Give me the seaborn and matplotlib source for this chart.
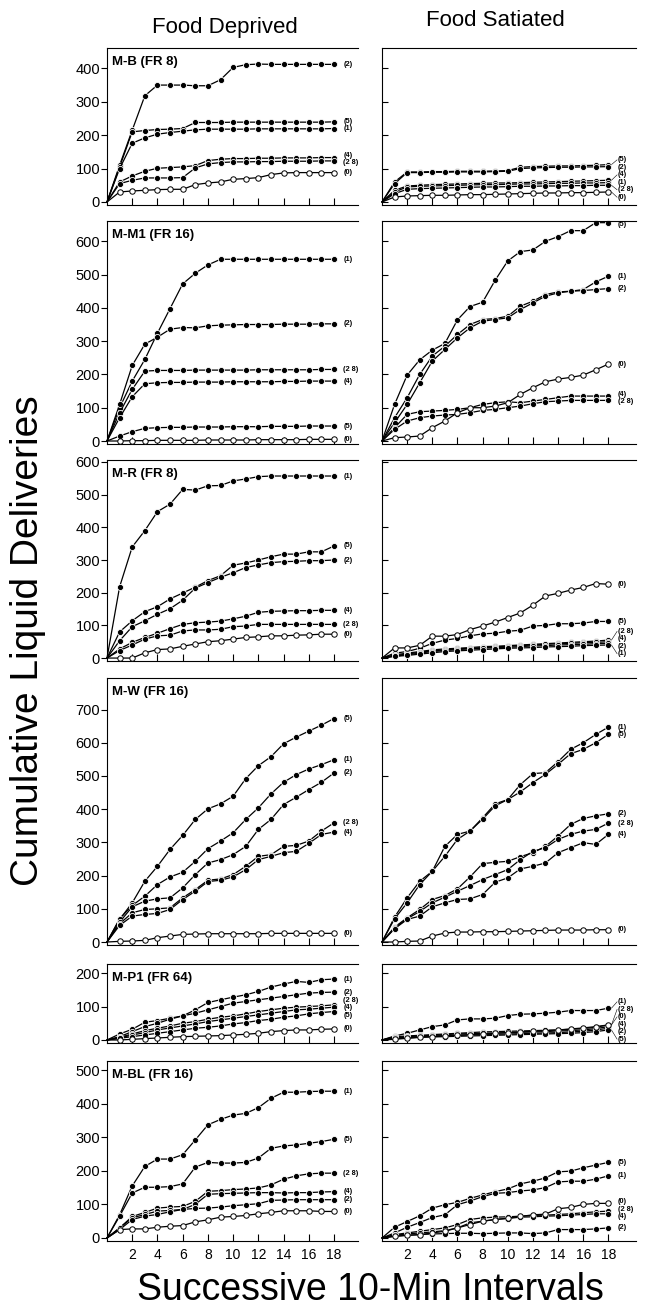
import matplotlib
matplotlib.use("Agg")
import matplotlib.pyplot as plt
import seaborn as sns
import numpy as np

sns.set_theme(style="ticks")
plt.rcParams["font.family"] = ["Liberation Sans", "DejaVu Sans"]
plt.rcParams.update({"text.color": "black", "axes.labelcolor": "black",
                     "xtick.color": "black", "ytick.color": "black",
                     "axes.edgecolor": "black"})

# ---------------- data ----------------
INTERVALS = list(range(1, 19))
X_TICKS = [2, 4, 6, 8, 10, 12, 14, 16, 18]
CONDITIONS = ["(0)", "(1)", "(2)", "(4)", "(5)", "(2 8)"]
PANEL_NAMES = ["M-B (FR 8)", "M-M1 (FR 16)", "M-R (FR 8)", "M-W (FR 16)", "M-P1 (FR 64)", "M-BL (FR 16)"]
Y_TICKS = [[0, 100, 200, 300, 400], [0, 100, 200, 300, 400, 500, 600], [0, 100, 200, 300, 400, 500, 600],
           [0, 100, 200, 300, 400, 500, 600, 700], [0, 100, 200], [0, 100, 200, 300, 400, 500]]
COLUMN_TITLES = ["Food Deprived", "Food Satiated"]

MB_DEP = {
    "(2)": [110, 215, 318, 350, 350, 350, 348, 348, 366, 403, 411, 413, 412, 412, 412, 412, 412, 412],
    "(5)": [105, 210, 214, 217, 218, 220, 238, 238, 238, 239, 239, 239, 239, 239, 239, 239, 239, 240],
    "(1)": [100, 176, 192, 203, 208, 212, 216, 218, 218, 218, 218, 219, 219, 219, 219, 219, 219, 220],
    "(4)": [60, 78, 92, 101, 103, 105, 109, 124, 128, 130, 130, 131, 131, 132, 132, 132, 133, 133],
    "(2 8)": [55, 65, 72, 72, 72, 73, 102, 114, 118, 120, 120, 121, 121, 122, 122, 122, 123, 123],
    "(0)": [30, 33, 35, 37, 38, 38, 52, 57, 60, 68, 70, 73, 82, 87, 88, 88, 88, 88],
}
MB_SAT = {
    "(5)": [60, 90, 90, 91, 91, 92, 92, 92, 93, 94, 104, 106, 107, 108, 108, 109, 110, 112],
    "(2)": [55, 88, 88, 89, 89, 90, 90, 90, 91, 92, 100, 102, 103, 104, 104, 105, 105, 106],
    "(4)": [35, 48, 50, 52, 53, 54, 55, 56, 57, 57, 58, 59, 60, 61, 62, 63, 64, 65],
    "(1)": [30, 45, 47, 48, 49, 50, 51, 52, 52, 53, 54, 54, 55, 56, 56, 57, 57, 58],
    "(2 8)": [25, 38, 40, 41, 42, 43, 44, 45, 45, 46, 47, 47, 48, 48, 49, 49, 50, 50],
    "(0)": [15, 18, 19, 20, 20, 21, 22, 22, 23, 24, 25, 26, 27, 27, 28, 28, 29, 30],
}
MM1_DEP = {
    "(1)": [100, 180, 245, 324, 398, 472, 504, 529, 546, 546, 546, 546, 546, 546, 546, 546, 546, 546],
    "(2)": [110, 227, 291, 312, 336, 341, 340, 346, 348, 349, 350, 350, 350, 351, 351, 351, 352, 352],
    "(2 8)": [85, 155, 210, 212, 212, 212, 213, 213, 213, 213, 213, 214, 214, 214, 214, 214, 215, 215],
    "(4)": [70, 133, 172, 175, 176, 176, 177, 177, 177, 178, 178, 178, 178, 179, 179, 180, 180, 180],
    "(5)": [15, 28, 38, 40, 41, 41, 42, 42, 42, 43, 43, 43, 44, 44, 44, 45, 45, 45],
    "(0)": [0, 1, 1, 2, 2, 2, 2, 3, 3, 3, 3, 4, 4, 4, 4, 5, 5, 5],
}
MM1_SAT = {
    "(5)": [110, 198, 244, 273, 293, 364, 404, 417, 483, 541, 569, 574, 600, 614, 632, 632, 656, 656],
    "(1)": [70, 130, 200, 255, 285, 320, 350, 365, 368, 375, 405, 420, 440, 448, 450, 455, 478, 495],
    "(2)": [55, 110, 175, 240, 275, 310, 340, 360, 365, 370, 395, 415, 435, 445, 450, 452, 455, 458],
    "(0)": [10, 12, 15, 40, 60, 85, 100, 100, 105, 115, 140, 160, 178, 186, 191, 198, 214, 231],
    "(4)": [40, 80, 88, 90, 92, 95, 100, 110, 115, 118, 115, 120, 125, 130, 135, 135, 135, 135],
    "(2 8)": [35, 60, 70, 75, 78, 80, 85, 92, 95, 100, 105, 112, 118, 120, 122, 122, 122, 122],
}
MR_DEP = {
    "(1)": [218, 340, 390, 448, 471, 516, 514, 527, 528, 542, 548, 555, 557, 557, 557, 557, 557, 557],
    "(5)": [80, 114, 142, 157, 181, 199, 217, 237, 252, 284, 291, 300, 310, 318, 318, 325, 325, 343],
    "(2)": [53, 96, 114, 134, 151, 177, 214, 231, 247, 261, 277, 285, 292, 295, 296, 298, 298, 300],
    "(4)": [28, 48, 63, 76, 90, 103, 108, 110, 113, 120, 128, 140, 143, 144, 145, 145, 146, 146],
    "(2 8)": [23, 40, 58, 68, 70, 83, 86, 86, 88, 96, 98, 103, 103, 103, 103, 103, 103, 103],
    "(0)": [0, 0, 16, 26, 28, 36, 43, 50, 53, 58, 63, 65, 68, 68, 70, 71, 73, 73],
}
MR_SAT = {
    "(0)": [31, 31, 39, 67, 67, 72, 87, 98, 110, 124, 138, 162, 190, 198, 208, 216, 228, 226],
    "(5)": [15, 20, 30, 45, 55, 60, 68, 74, 76, 82, 85, 98, 100, 105, 105, 107, 112, 112],
    "(2 8)": [10, 15, 20, 25, 28, 30, 32, 35, 36, 38, 40, 42, 44, 46, 48, 50, 52, 55],
    "(4)": [8, 12, 18, 22, 25, 28, 30, 32, 34, 36, 38, 40, 42, 44, 45, 47, 48, 50],
    "(2)": [6, 10, 15, 20, 23, 26, 28, 30, 32, 33, 35, 37, 38, 40, 41, 42, 44, 45],
    "(1)": [5, 8, 12, 16, 20, 22, 24, 26, 28, 30, 31, 32, 34, 35, 36, 38, 39, 40],
}
MW_DEP = {
    "(5)": [68, 118, 183, 228, 279, 321, 369, 401, 416, 439, 492, 531, 558, 597, 617, 635, 653, 673],
    "(1)": [70, 110, 138, 173, 196, 210, 243, 281, 304, 329, 369, 404, 446, 481, 504, 521, 534, 549],
    "(2)": [60, 106, 123, 130, 133, 163, 203, 238, 248, 263, 288, 339, 369, 414, 436, 459, 481, 509],
    "(2 8)": [55, 88, 98, 100, 103, 133, 158, 186, 190, 203, 228, 258, 263, 288, 291, 304, 334, 359],
    "(4)": [50, 78, 83, 86, 98, 128, 153, 182, 186, 196, 218, 248, 258, 269, 273, 297, 324, 331],
    "(0)": [2, 3, 5, 13, 18, 23, 24, 25, 25, 25, 25, 25, 26, 26, 26, 26, 26, 26],
}
MW_SAT = {
    "(1)": [75, 133, 183, 213, 288, 324, 334, 374, 416, 429, 474, 507, 510, 543, 580, 600, 625, 647],
    "(5)": [70, 118, 173, 213, 258, 309, 334, 370, 410, 429, 452, 480, 505, 535, 567, 580, 600, 625],
    "(2)": [45, 73, 98, 128, 140, 160, 196, 236, 240, 243, 257, 269, 288, 319, 354, 372, 380, 386],
    "(2 8)": [42, 70, 92, 118, 135, 153, 170, 188, 203, 218, 248, 273, 284, 309, 324, 334, 339, 358],
    "(4)": [40, 68, 78, 106, 118, 128, 130, 143, 180, 193, 220, 228, 238, 269, 284, 299, 294, 324],
    "(0)": [0, 2, 3, 18, 27, 30, 30, 31, 31, 32, 33, 34, 35, 36, 36, 36, 37, 37],
}
MP1_DEP = {
    "(1)": [18, 32, 53, 58, 65, 72, 90, 112, 120, 128, 135, 145, 158, 167, 175, 172, 180, 182],
    "(2)": [10, 25, 40, 50, 62, 72, 80, 90, 100, 110, 115, 120, 125, 130, 135, 140, 142, 143],
    "(2 8)": [8, 18, 28, 35, 42, 50, 55, 62, 68, 72, 78, 85, 90, 95, 98, 100, 102, 105],
    "(4)": [6, 15, 22, 30, 36, 42, 48, 55, 60, 65, 70, 75, 80, 85, 90, 92, 95, 98],
    "(5)": [5, 10, 15, 20, 25, 30, 35, 38, 42, 48, 52, 58, 62, 68, 72, 78, 82, 85],
    "(0)": [0, 2, 4, 6, 8, 10, 11, 12, 13, 15, 17, 20, 25, 28, 30, 30, 32, 33],
}
MP1_SAT = {
    "(1)": [12, 20, 30, 40, 45, 60, 63, 63, 65, 73, 77, 78, 80, 83, 88, 88, 88, 95],
    "(0)": [2, 5, 8, 10, 12, 14, 16, 18, 20, 22, 24, 26, 28, 30, 33, 36, 40, 45],
    "(2 8)": [10, 12, 14, 16, 18, 20, 22, 24, 25, 26, 27, 28, 29, 30, 32, 34, 38, 45],
    "(4)": [8, 10, 12, 14, 16, 18, 19, 20, 21, 22, 23, 24, 25, 27, 28, 30, 34, 40],
    "(2)": [6, 8, 10, 12, 13, 14, 15, 16, 17, 18, 19, 20, 21, 22, 24, 26, 30, 35],
    "(5)": [4, 6, 8, 9, 10, 11, 12, 13, 14, 15, 16, 17, 18, 19, 20, 22, 25, 30],
}
MBL_DEP = {
    "(1)": [69, 155, 213, 235, 235, 248, 292, 337, 353, 366, 371, 388, 416, 434, 434, 436, 437, 437],
    "(5)": [65, 134, 151, 151, 153, 161, 211, 225, 223, 223, 225, 238, 267, 274, 277, 282, 287, 294],
    "(2 8)": [30, 64, 76, 89, 92, 94, 109, 139, 141, 144, 146, 149, 158, 175, 185, 191, 193, 193],
    "(4)": [30, 60, 70, 80, 82, 85, 100, 130, 132, 133, 134, 135, 135, 134, 135, 135, 137, 138],
    "(2)": [25, 55, 65, 70, 78, 85, 88, 89, 92, 96, 99, 102, 112, 113, 114, 114, 114, 114],
    "(0)": [25, 27, 27, 32, 35, 37, 48, 54, 62, 64, 67, 72, 76, 81, 81, 81, 79, 79],
}
MBL_SAT = {
    "(5)": [32, 49, 66, 89, 99, 106, 118, 128, 138, 146, 161, 169, 179, 197, 199, 209, 217, 225],
    "(1)": [15, 32, 46, 61, 69, 99, 110, 123, 133, 135, 140, 143, 150, 167, 169, 169, 175, 185],
    "(0)": [5, 8, 10, 15, 20, 30, 40, 50, 55, 59, 64, 69, 71, 87, 91, 100, 103, 103],
    "(2 8)": [10, 15, 20, 25, 30, 40, 55, 60, 62, 63, 65, 67, 68, 70, 72, 75, 78, 80],
    "(4)": [8, 12, 15, 18, 22, 30, 45, 50, 55, 58, 62, 63, 65, 66, 68, 70, 72, 72],
    "(2)": [5, 8, 10, 12, 13, 14, 14, 13, 14, 15, 15, 13, 15, 25, 25, 25, 27, 30],
}

PANELS = [(MB_DEP, MB_SAT), (MM1_DEP, MM1_SAT), (MR_DEP, MR_SAT),
          (MW_DEP, MW_SAT), (MP1_DEP, MP1_SAT), (MBL_DEP, MBL_SAT)]

# ---------------- layout (pixels) ----------------
W, H = 647, 1315
ROW_BOX = [(48, 205), (221, 444), (460, 661), (678, 945), (964, 1043), (1061, 1241)]
Y_LIMS = [(-9, 461), (-9, 661), (-9, 606), (-9, 795), (-9, 227), (-9, 527)]
COL_BOX = [(107, 358, 19.9), (382, 636, 20.2)]

fig = plt.figure(figsize=(W / 100, H / 100), dpi=100)


def spread(vals, gap, lo, hi):
    order = np.argsort(vals)[::-1]
    pos = np.array(vals, dtype=float)[order]
    for _ in range(300):
        moved = False
        for i in range(1, len(pos)):
            d = pos[i - 1] - pos[i]
            if d < gap:
                s = (gap - d) / 2
                pos[i - 1] += s
                pos[i] -= s
                moved = True
        pos = np.clip(pos, lo, hi)
        if not moved:
            break
    out = np.empty_like(pos)
    out[order] = pos
    return out


for r, (dep, sat) in enumerate(PANELS):
    top, bot = ROW_BOX[r]
    for c, data in enumerate((dep, sat)):
        l, rgt, xmax = COL_BOX[c]
        ax = fig.add_axes([l / W, 1 - bot / H, (rgt - l) / W, (bot - top) / H])
        xs = [0] + INTERVALS
        for cond, vals in data.items():
            ys = [0] + vals
            open_m = cond == "(0)"
            sns.lineplot(x=xs, y=ys, ax=ax, sort=False, color="black", lw=0.9,
                         marker="o", markevery=list(range(1, 19)),
                         markersize=4.4 if not open_m else 3.9,
                         markerfacecolor="white" if open_m else "black",
                         markeredgecolor="black" if open_m else "white",
                         markeredgewidth=0.7 if open_m else 0.6, legend=False,
                         zorder=3 if open_m else 2, clip_on=False)
        ax.set_xlim(0, xmax)
        ax.set_ylim(*Y_LIMS[r])
        ax.set_xticks(X_TICKS)
        ax.set_yticks(Y_TICKS[r])
        ax.tick_params(axis="x", direction="in", length=5, width=0.8, labelsize=10, pad=5)
        if c == 0:
            ax.tick_params(axis="y", direction="out", length=4, width=0.8, labelsize=10.5, pad=1)
            ax.text(0.018, 1 - 8.0 / (bot - top), PANEL_NAMES[r], transform=ax.transAxes,
                    ha="left", va="top", fontsize=9.5, fontweight="bold")
        else:
            ax.tick_params(axis="y", direction="in", length=4, width=0.8, labelleft=False)
        if r != len(PANELS) - 1:
            ax.tick_params(axis="x", labelbottom=False)
        ax.set_xlabel("")
        ax.set_ylabel("")
        for s in ("top", "left", "bottom"):
            ax.spines[s].set_linewidth(0.8)
            ax.spines[s].set_color("black")
        ax.spines["right"].set_visible(False)
        ax.grid(False)
        # end labels
        px_per_unit = (bot - top) / (Y_LIMS[r][1] - Y_LIMS[r][0])
        gap = 7.5 / px_per_unit
        conds = list(data.keys())
        ends = [data[k][-1] for k in conds]
        lab = spread(ends, gap, Y_LIMS[r][0] + gap * 0.5, Y_LIMS[r][1] - gap * 0.5)
        for k, e, yl in zip(conds, ends, lab):
            if abs(yl - e) > gap * 0.6:
                ax.plot([18.25, 18.7], [e, yl], color="black", lw=0.4, clip_on=False)
            ax.text(18.75, yl, k, fontsize=5.3, fontweight="bold", va="center", ha="left",
                    clip_on=False)

fig.text(225 / W, 1 - 28 / H, COLUMN_TITLES[0], ha="center", va="center", fontsize=16)
fig.text(495 / W, 1 - 21 / H, COLUMN_TITLES[1], ha="center", va="center", fontsize=16)
fig.text(28 / W, 1 - 641 / H, "Cumulative Liquid Deliveries", rotation=90, ha="center",
         va="center", fontsize=28)
fig.text(370 / W, 1 - 1290 / H, "Successive 10-Min Intervals", ha="center", va="center",
         fontsize=27)

fig.savefig("out.png", dpi=100, facecolor="white")
